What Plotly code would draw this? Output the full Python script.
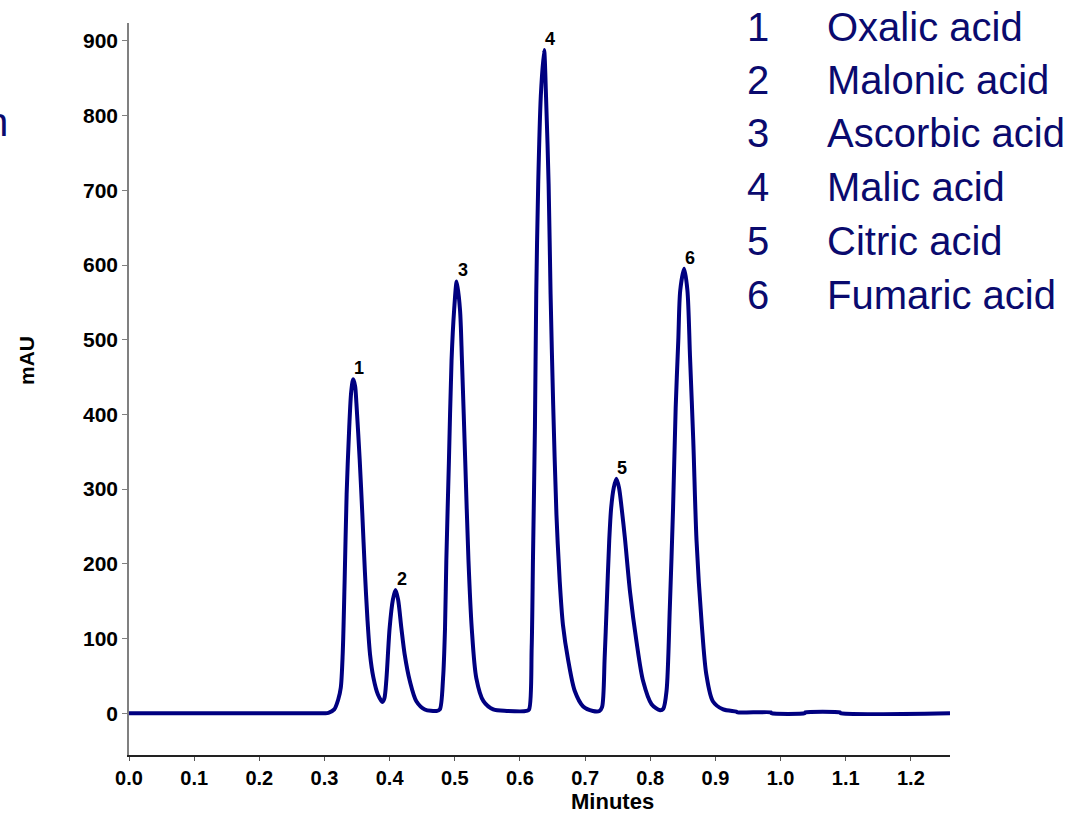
import plotly.graph_objects as go

# Chromatogram trace (time in minutes, absorbance in mAU)
time_min = [0.000, 0.100, 0.200, 0.300, 0.306, 0.315, 0.321, 0.325, 0.328, 0.331,
            0.334, 0.338, 0.341, 0.344, 0.347, 0.349, 0.354, 0.358, 0.362, 0.366,
            0.370, 0.375, 0.382, 0.389, 0.392, 0.395, 0.400, 0.405, 0.409, 0.413,
            0.418, 0.423, 0.431, 0.441, 0.454, 0.472, 0.477, 0.482, 0.485, 0.487,
            0.491, 0.495, 0.499, 0.503, 0.508, 0.511, 0.516, 0.521, 0.526, 0.533,
            0.544, 0.559, 0.580, 0.610, 0.614, 0.618, 0.620, 0.623, 0.625, 0.628,
            0.632, 0.637, 0.640, 0.644, 0.647, 0.651, 0.656, 0.661, 0.666, 0.674,
            0.684, 0.697, 0.712, 0.722, 0.726, 0.730, 0.733, 0.737, 0.740, 0.744,
            0.748, 0.752, 0.756, 0.761, 0.769, 0.779, 0.789, 0.802, 0.815, 0.820,
            0.825, 0.830, 0.835, 0.839, 0.843, 0.846, 0.852, 0.857, 0.861, 0.866,
            0.871, 0.879, 0.886, 0.896, 0.912, 0.932, 0.934, 0.985, 0.986, 1.037,
            1.038, 1.091, 1.092, 1.260]
absorbance_mau = [0, 0, 0, 0, 0.5, 5, 18, 34, 80, 180,
                  293, 383, 430, 447, 438, 415, 340, 268, 190, 125,
                  78, 48, 25, 15, 20, 45, 114, 152, 165, 152,
                  114, 79, 43, 16, 5, 3, 5, 47, 114, 204,
                  338, 472, 540, 578, 540, 472, 338, 204, 114, 47,
                  16, 5, 3, 3, 5, 88, 207, 384, 561, 708,
                  826, 888, 826, 708, 561, 413, 266, 177, 118, 71,
                  30, 9, 3, 3, 8, 74, 141, 231, 275, 302,
                  314, 302, 275, 235, 162, 95, 43, 12, 4, 6,
                  30, 141, 275, 409, 499, 566, 595, 566, 477, 365,
                  231, 119, 52, 16, 5, 2, 1, 1, 0, 0,
                  1, 1, 0, 0]

# Peak labels
peak_labels = ["1", "2", "3", "4", "5", "6"]
peak_times = [0.344, 0.409, 0.503, 0.637, 0.748, 0.852]
peak_heights = [447, 165, 578, 888, 314, 595]

# Compound list
compound_numbers = ["1", "2", "3", "4", "5", "6"]
compound_names = ["Oxalic acid", "Malonic acid", "Ascorbic acid",
                  "Malic acid", "Citric acid", "Fumaric acid"]

x_ticks = [0.0, 0.1, 0.2, 0.3, 0.4, 0.5, 0.6, 0.7, 0.8, 0.9, 1.0, 1.1, 1.2]
y_ticks = [0, 100, 200, 300, 400, 500, 600, 700, 800, 900]

W, H = 1088, 813
ML, MR, MT, MB = 129, 138, 23, 58
PW, PH = W - ML - MR, H - MT - MB

def px_to_paper_x(px):
    return (px - ML) / PW

def px_to_paper_y(py):
    return (H - MB - py) / PH

FONT = "Liberation Sans, Arial, sans-serif"
NAVY = "#000080"
TEXT_NAVY = "#0a0a6e"

fig = go.Figure()
fig.add_trace(go.Scatter(
    x=time_min, y=absorbance_mau, mode="lines",
    line=dict(color=NAVY, width=4, shape="spline", smoothing=0.8),
    hoverinfo="x+y", showlegend=False,
))

annotations = []
for lab, t, h in zip(peak_labels, peak_times, peak_heights):
    annotations.append(dict(
        x=t, y=h, xref="x", yref="y", text=f"<b>{lab}</b>", showarrow=False,
        xshift=6, yshift=11, font=dict(family=FONT, size=18, color="black"),
    ))

row_y = [27, 80, 133, 187, 241, 295]
for num, name, ry in zip(compound_numbers, compound_names, row_y):
    annotations.append(dict(
        x=px_to_paper_x(745), y=px_to_paper_y(ry), xref="paper", yref="paper",
        xanchor="left", yanchor="middle", text=num, showarrow=False,
        font=dict(family=FONT, size=40, color=TEXT_NAVY),
    ))
    annotations.append(dict(
        x=px_to_paper_x(825), y=px_to_paper_y(ry), xref="paper", yref="paper",
        xanchor="left", yanchor="middle", text=name, showarrow=False,
        font=dict(family=FONT, size=40, color=TEXT_NAVY),
    ))

# clipped fragment of text at the left edge (as in the reference)
annotations.append(dict(
    x=px_to_paper_x(10), y=px_to_paper_y(122), xref="paper", yref="paper",
    xanchor="right", yanchor="middle", text="n", showarrow=False,
    font=dict(family=FONT, size=40, color=TEXT_NAVY),
))

# axis titles
annotations.append(dict(
    x=px_to_paper_x(26), y=px_to_paper_y(360), xref="paper", yref="paper",
    xanchor="center", yanchor="middle", text="<b>mAU</b>", textangle=-90,
    showarrow=False, font=dict(family=FONT, size=21, color="black"),
))
annotations.append(dict(
    x=px_to_paper_x(612), y=px_to_paper_y(801), xref="paper", yref="paper",
    xanchor="center", yanchor="middle", text="<b>Minutes</b>",
    showarrow=False, font=dict(family=FONT, size=22, color="black"),
))

fig.update_layout(
    width=W, height=H,
    margin=dict(l=ML, r=MR, t=MT, b=MB, pad=0),
    paper_bgcolor="white", plot_bgcolor="white",
    annotations=annotations,
    xaxis=dict(
        range=[0, 1.26], tickvals=x_ticks,
        ticktext=[f"<b>{v:.1f}</b>" for v in x_ticks],
        showgrid=False, zeroline=False, showline=True, linecolor="#222222",
        linewidth=1.5, ticks="outside", ticklen=4, tickcolor="#555555",
        tickfont=dict(family=FONT, size=20, color="black"),
    ),
    yaxis=dict(
        range=[-56, 924], tickvals=y_ticks,
        ticktext=[f"<b>{v}</b>" for v in y_ticks],
        showgrid=False, zeroline=False, showline=True, linecolor="#808080",
        linewidth=1.5, ticks="outside", ticklen=5, tickcolor="#808080",
        tickfont=dict(family=FONT, size=21, color="black"),
    ),
)

fig.write_html(
    "out.html",
    config={"displayModeBar": False},
    post_script="document.body.style.margin='0';document.body.style.overflow='hidden';",
)
